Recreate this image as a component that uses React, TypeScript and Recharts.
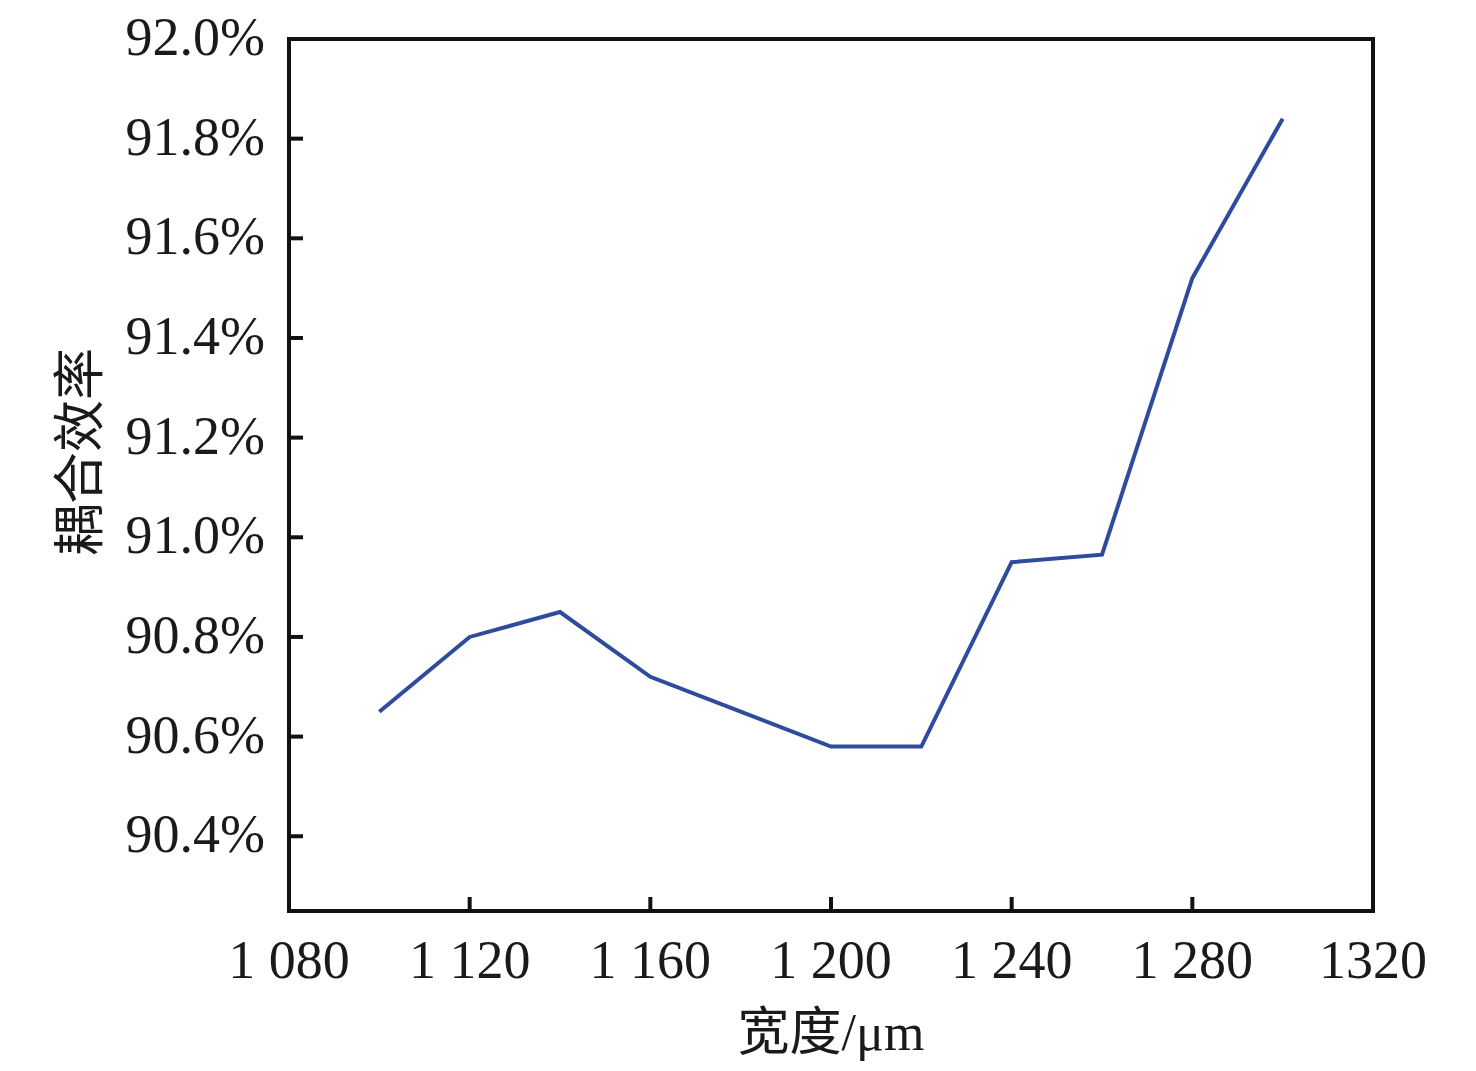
import { LineChart, Line, XAxis, YAxis, ReferenceArea, Label } from "recharts"

const widths = [1100, 1120, 1140, 1160, 1180, 1200, 1220, 1240, 1260, 1280, 1300]
const efficiency = [90.65, 90.8, 90.85, 90.72, 90.65, 90.58, 90.58, 90.95, 90.965, 91.52, 91.84]

const xTicks = [1080, 1120, 1160, 1200, 1240, 1280, 1320]
const xTickLabels = ["1 080", "1 120", "1 160", "1 200", "1 240", "1 280", "1320"]
const yTicks = [90.4, 90.6, 90.8, 91.0, 91.2, 91.4, 91.6, 91.8, 92.0]
const yDomain = [90.25, 92.0]

const data = widths.map((w, i) => ({ width: w, value: efficiency[i] }))

const serif = "'Liberation Serif', 'Times New Roman', 'Noto Sans CJK SC', serif"
const tickStyle = { fontFamily: serif, fontSize: 54, fill: "#1a1a1a" }

export default function App() {
  return (
    <LineChart
      width={1460}
      height={1055}
      data={data}
      margin={{ top: 31, right: 95, left: 0, bottom: 0 }}
    >
      <ReferenceArea
        x1={xTicks[0]}
        x2={xTicks[xTicks.length - 1]}
        y1={yDomain[0]}
        y2={yDomain[1]}
        fill="none"
        stroke="#111"
        strokeWidth={4}
        ifOverflow="visible"
      />
      <XAxis
        dataKey="width"
        type="number"
        domain={[xTicks[0], xTicks[xTicks.length - 1]]}
        ticks={xTicks}
        tickFormatter={(v) => xTickLabels[xTicks.indexOf(v)] ?? String(v)}
        height={152}
        tickSize={-14}
        tickMargin={43}
        axisLine={{ stroke: "#111", strokeWidth: 4 }}
        tickLine={{ stroke: "#111", strokeWidth: 4 }}
        tick={tickStyle}
        interval={0}
      >
        <Label
          content={(props: any) => {
            const vb = props.viewBox
            return (
              <text
                x={vb.x + vb.width / 2}
                y={vb.y + 139}
                textAnchor="middle"
                fontFamily={serif}
                fontSize={52}
                fill="#1a1a1a"
              >
                宽度/μm
              </text>
            )
          }}
        />
      </XAxis>
      <YAxis
        type="number"
        domain={yDomain}
        allowDataOverflow
        ticks={yTicks}
        tickFormatter={(v) => `${v.toFixed(1)}%`}
        width={281}
        tickSize={-14}
        tickMargin={38}
        axisLine={{ stroke: "#111", strokeWidth: 4 }}
        tickLine={{ stroke: "#111", strokeWidth: 4 }}
        tick={{ ...tickStyle, dy: -3 }}
        interval={0}
      >
        <Label
          content={(props: any) => {
            const vb = props.viewBox
            const cx = vb.x + 67
            const cy = vb.y + 413
            return (
              <text
                x={cx}
                y={cy}
                transform={`rotate(-90 ${cx} ${cy})`}
                textAnchor="middle"
                dominantBaseline="central"
                fontFamily="'Noto Sans CJK SC', sans-serif"
                fontSize={52}
                fill="#1a1a1a"
              >
                耦合效率
              </text>
            )
          }}
        />
      </YAxis>
      <Line
        type="linear"
        dataKey="value"
        stroke="#2F4B9E"
        strokeWidth={4}
        dot={false}
        isAnimationActive={false}
      />
    </LineChart>
  )
}
